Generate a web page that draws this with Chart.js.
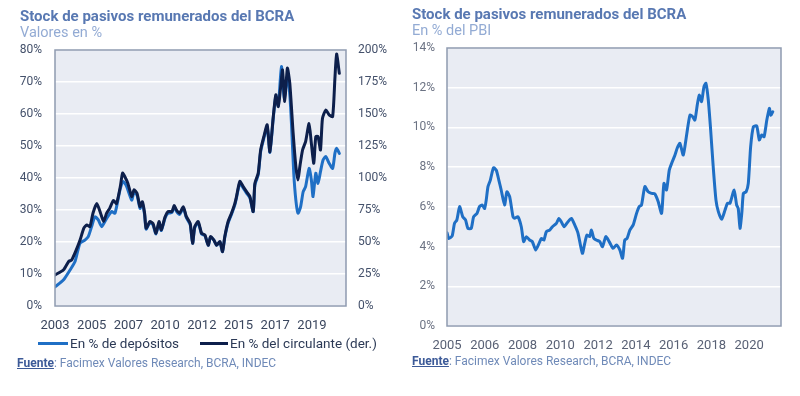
<!DOCTYPE html>
<html>
<head>
<meta charset="utf-8">
<script src="https://cdn.jsdelivr.net/npm/chart.js@4"></script>
<style>
  body { margin: 0; background: #fff; font-family: Roboto, "Noto Sans", sans-serif; }
  #wrap { position: relative; width: 800px; height: 396px; overflow: hidden; }
  canvas { position: absolute; top: 0; }
  .txt { position: absolute; white-space: nowrap; }
  .titulo { font-size: 15px; line-height: 15px; font-weight: bold; color: #5878b2; }
  .sub { font-size: 14.5px; line-height: 14.5px; color: #93abd4; }
  .fuente { font-size: 12px; line-height: 12px; color: #6f8ab8; }
  .fuente b { color: #3c5a98; text-decoration: underline; }
  .leg { font-size: 13.5px; line-height: 13.5px; color: #2c3a56; }
  .linea { position: absolute; height: 3px; }
</style>
</head>
<body>
<div id="wrap">
  <canvas id="izq" width="400" height="396" style="left:0"></canvas>
  <canvas id="der" width="400" height="396" style="left:400px"></canvas>

  <div class="txt titulo" style="left:20px; top:9px">Stock de pasivos remunerados del BCRA</div>
  <div class="txt sub" style="left:20px; top:26px">Valores en %</div>
  <div class="txt titulo" style="left:412px; top:7px">Stock de pasivos remunerados del BCRA</div>
  <div class="txt sub" style="left:412px; top:24px">En % del PBI</div>

  <div class="linea" style="left:38px; top:342px; width:30px; background:#1f6fc5"></div>
  <div class="txt leg" style="left:70px; top:337px">En % de depósitos</div>
  <div class="linea" style="left:200px; top:342px; width:28px; background:#0d1f4b"></div>
  <div class="txt leg" style="left:230px; top:337px">En % del circulante (der.)</div>

  <div class="txt fuente" style="left:17px; top:357px"><b>Fuente</b>: Facimex Valores Research, BCRA, INDEC</div>
  <div class="txt fuente" style="left:412px; top:355px"><b>Fuente</b>: Facimex Valores Research, BCRA, INDEC</div>
</div>
<script>
Chart.defaults.font.family = "Roboto, 'Noto Sans', sans-serif";

// Grafico izquierdo: % de depositos (eje izq.) y % del circulante (eje der.)
const aniosDep = [2003.0, 2003.55, 2003.99, 2004.32, 2004.64, 2004.97, 2005.19, 2005.41, 2005.63, 2005.85,
    2006.07, 2006.4, 2006.73, 2006.95, 2007.28, 2007.5, 2007.72, 2008.05,
    2008.2, 2008.4, 2008.6, 2008.75, 2008.9, 2009.0, 2009.25, 2009.45, 2009.65, 2009.85,
    2010.0, 2010.25, 2010.45, 2010.7, 2010.85, 2011.0, 2011.2, 2011.45, 2011.65, 2011.9,
    2012.06, 2012.2, 2012.43, 2012.65, 2012.87, 2013.09, 2013.24, 2013.46, 2013.64, 2013.86,
    2014.03, 2014.18, 2014.4, 2014.62, 2014.84, 2014.95, 2015.17, 2015.39, 2015.61, 2015.83,
    2016.05, 2016.16, 2016.38, 2016.54, 2016.75, 2016.97, 2017.15, 2017.36, 2017.54, 2017.7,
    2017.91, 2018.09, 2018.3, 2018.46, 2018.57, 2018.72, 2018.86, 2019.0, 2019.17, 2019.34,
    2019.5, 2019.73, 2019.88, 2019.99, 2020.17, 2020.32, 2020.48, 2020.65, 2020.83, 2021.05,
    2021.28, 2021.43, 2021.54, 2021.72];
const depositos = [6, 8.1, 11.25, 13.9, 19.6, 20.6, 21.7, 24.8, 27.9, 26.9,
    24.8, 27.4, 29.5, 29, 36.3, 38.9, 37.3, 33.1,
    35.5, 34.6, 30.5, 32, 28.5, 24, 26, 25.4, 22.5, 26,
    23.6, 27.5, 29, 29.2, 31, 29.6, 28.6, 30.6, 27.6, 25.4,
    19.6, 24.4, 26, 22.5, 22, 19, 21.5, 20.6, 19, 20,
    17, 21.5, 26, 28.6, 31.6, 33.8, 38.4, 36.9, 35.3, 33.8,
    29.5, 37.8, 41, 48.2, 52.4, 56, 48, 58.2, 65.5, 62.6,
    74.8, 65, 72, 66, 57, 41.5, 33, 29, 31, 35.7,
    37.3, 43, 39.4, 34.2, 41.5, 38.3, 42, 45.6, 46.7, 44.6,
    43, 47.7, 49.3, 47.7];

const aniosCirc = [2003.0, 2003.55, 2003.9, 2004.1, 2004.4, 2004.65, 2004.9, 2005.1, 2005.3, 2005.5,
    2005.75, 2006.0, 2006.2, 2006.4, 2006.6, 2006.85, 2007.05, 2007.3, 2007.45, 2007.6,
    2007.8, 2008.05, 2008.2, 2008.4, 2008.6, 2008.75, 2008.9, 2009.0, 2009.25, 2009.45,
    2009.65, 2009.85, 2010.0, 2010.25, 2010.45, 2010.7, 2010.85, 2011.0, 2011.2, 2011.45,
    2011.65, 2011.9, 2012.06, 2012.2, 2012.43, 2012.65, 2012.87, 2013.09, 2013.24, 2013.46,
    2013.64, 2013.86, 2014.03, 2014.18, 2014.4, 2014.62, 2014.84, 2014.95, 2015.17, 2015.39,
    2015.61, 2015.83, 2016.05, 2016.16, 2016.38, 2016.54, 2016.75, 2016.97, 2017.15, 2017.36,
    2017.54, 2017.7, 2017.85, 2017.98, 2018.13, 2018.3, 2018.46, 2018.68, 2018.86, 2019.0,
    2019.12, 2019.3, 2019.5, 2019.73, 2019.88, 2020.04, 2020.17, 2020.32, 2020.48, 2020.61,
    2020.83, 2021.05, 2021.28, 2021.43, 2021.54, 2021.72];
const circulante = [24.3, 28.1, 34.8, 36, 43.8, 51.5, 60.8, 63.3, 62, 72.5,
    80, 72.5, 66, 72.5, 76.3, 82.5, 80, 93.3, 103.8, 101,
    95.8, 85.5, 90.8, 88, 77.5, 81.5, 72.5, 60.8, 66, 64.5,
    56.8, 66, 59.5, 69.8, 73.8, 73.8, 78.5, 75, 72.5, 77.5,
    69.8, 64.5, 49, 62, 66, 56.8, 55.5, 47.5, 54.3, 51.5,
    47.5, 50.3, 42.5, 54.3, 66, 72.5, 80, 85.5, 97.3, 93.3,
    89.3, 85.5, 73.8, 95.8, 103.8, 121.9, 132.3, 141.5, 120.5, 146.5,
    165, 155.8, 170, 184.4, 159.8, 185.8, 174, 135, 108.8, 98.5,
    108.8, 121.9, 128.5, 142.5, 127, 111.5, 132.3, 132.3, 121.9, 146.5,
    153.1, 149.3, 148, 177.8, 196.9, 181.8];

const ticksIzq = [2003, 2005.417, 2007.833, 2010.25, 2012.667, 2015.083, 2017.5, 2019.917];
const etiquetasIzq = ["2003", "2005", "2007", "2010", "2012", "2015", "2017", "2019"];

// Grafico derecho: % del PBI
const aniosPbi = [2005.0, 2005.09, 2005.26, 2005.38, 2005.5, 2005.64, 2005.8, 2005.94, 2006.06, 2006.23,
    2006.35, 2006.52, 2006.65, 2006.79, 2006.91, 2006.99, 2007.08, 2007.2, 2007.36, 2007.5,
    2007.63, 2007.75, 2007.92, 2008.04, 2008.18, 2008.35, 2008.43, 2008.6, 2008.77, 2008.89,
    2009.03, 2009.19, 2009.33, 2009.5, 2009.67, 2009.79, 2009.92, 2010.04, 2010.21, 2010.35,
    2010.55, 2010.68, 2010.8, 2010.94, 2011.14, 2011.31, 2011.48, 2011.65, 2011.87, 2011.99,
    2012.1, 2012.24, 2012.33, 2012.45, 2012.58, 2012.75, 2012.89, 2013.06, 2013.23, 2013.43,
    2013.6, 2013.77, 2013.91, 2014.02, 2014.14, 2014.28, 2014.45, 2014.62, 2014.75, 2014.87,
    2015.04, 2015.21, 2015.38, 2015.55, 2015.72, 2015.89, 2016.01, 2016.14, 2016.28, 2016.4,
    2016.57, 2016.68, 2016.82, 2016.99, 2017.16, 2017.33, 2017.47, 2017.58, 2017.7, 2017.8,
    2017.92, 2018.04, 2018.14, 2018.26, 2018.38, 2018.51, 2018.65, 2018.77, 2018.94, 2019.11,
    2019.23, 2019.36, 2019.57, 2019.7, 2019.78, 2019.87, 2019.96, 2020.04, 2020.18, 2020.29,
    2020.41, 2020.55, 2020.72, 2020.85, 2020.97, 2021.09, 2021.23, 2021.36, 2021.43, 2021.53];
const pasivosPbi = [4.7, 4.41, 4.53, 5.17, 5.34, 6.01, 5.5, 5.34, 4.92, 4.92,
    5.5, 5.67, 6.01, 6.09, 5.92, 6.34, 7.02, 7.35, 7.97, 7.85,
    7.35, 6.85, 6.09, 6.76, 6.51, 5.5, 5.42, 5.5, 5.0, 4.25,
    4.5, 4.33, 4.25, 3.83, 4.16, 4.41, 4.33, 4.75, 4.83, 5.0,
    5.17, 5.42, 5.25, 5.0, 5.25, 5.42, 5.09, 4.67, 3.66, 4.16,
    4.58, 4.5, 4.83, 4.41, 4.33, 4.25, 3.99, 4.5, 4.25, 3.91,
    4.08, 3.83, 3.41, 4.33, 4.41, 4.83, 5.09, 5.67, 6.01, 6.09,
    7.02, 6.76, 6.68, 6.65, 6.26, 5.67, 7.18, 6.85, 7.85, 8.19,
    8.61, 8.95, 9.2, 8.61, 9.62, 10.62, 10.54, 10.37, 11.13, 11.63,
    11.3, 12.05, 12.22, 11.38, 9.87, 8.02, 6.34, 5.76, 5.37, 5.84,
    6.18, 6.18, 6.85, 6.09, 5.92, 4.92, 5.67, 6.68, 6.76, 7.18,
    9.03, 10.04, 10.07, 9.37, 9.62, 9.53, 10.37, 10.96, 10.62, 10.79];

const ticksDer = [2005, 2006.917, 2008.833, 2010.75, 2012.667, 2014.583, 2016.5, 2018.417, 2020.333];
const etiquetasDer = ["2005", "2006", "2008", "2010", "2012", "2014", "2016", "2018", "2020"];

const aPuntos = (xs, ys) => xs.map((x, i) => ({ x: x, y: ys[i] }));

// fondo gris del area de graficos y borde
const fondoArea = {
    id: "fondoArea",
    beforeDraw(chart) {
        const { ctx, chartArea: a } = chart;
        ctx.save();
        ctx.fillStyle = "#e9ecf3";
        ctx.fillRect(a.left, a.top, a.width, a.height);
        ctx.restore();
    },
    afterDraw(chart) {
        const { ctx, chartArea: a } = chart;
        ctx.save();
        ctx.strokeStyle = "#8e9ab0";
        ctx.lineWidth = 1.5;
        ctx.strokeRect(a.left, a.top, a.width, a.height);
        ctx.restore();
    }
};

const linea = (datos, color, eje, orden) => ({
    data: datos,
    borderColor: color,
    borderWidth: 3,
    pointRadius: 0,
    tension: 0.2,
    borderJoinStyle: "round",
    borderCapStyle: "round",
    yAxisID: eje,
    order: orden
});

new Chart(document.getElementById("izq"), {
    type: "line",
    data: {
        datasets: [
            linea(aPuntos(aniosDep, depositos), "#1f6fc5", "y", 1),
            linea(aPuntos(aniosCirc, circulante), "#0d1f4b", "y1", 0)
        ]
    },
    options: {
        responsive: false,
        animation: false,
        layout: { padding: { top: 50, bottom: 60, left: 0, right: 0 } },
        plugins: { legend: { display: false }, tooltip: { enabled: false } },
        scales: {
            x: {
                type: "linear",
                min: 2003,
                max: 2022.16,
                grid: { display: false },
                border: { display: false },
                afterBuildTicks: (s) => { s.ticks = ticksIzq.map(v => ({ value: v })); },
                afterFit: (s) => { s.height = 30; },
                ticks: {
                    autoSkip: false, maxRotation: 0, padding: 4,
                    color: "#3a465e", font: { size: 13 },
                    callback: (v, i) => etiquetasIzq[i]
                }
            },
            y: {
                position: "left",
                min: 0, max: 80,
                afterFit: (s) => { s.width = 55; },
                grid: { color: "#ffffff", lineWidth: 1.5, drawTicks: false },
                border: { display: false },
                ticks: { stepSize: 10, padding: 13, color: "#44516b", font: { size: 12 }, callback: v => v + "%" }
            },
            y1: {
                position: "right",
                min: 0, max: 200,
                afterFit: (s) => { s.width = 54; },
                grid: { display: false, drawTicks: false },
                border: { display: false },
                ticks: { stepSize: 25, padding: 12, color: "#44516b", font: { size: 12 }, callback: v => v + "%" }
            }
        }
    },
    plugins: [fondoArea]
});

new Chart(document.getElementById("der"), {
    type: "line",
    data: {
        datasets: [linea(aPuntos(aniosPbi, pasivosPbi), "#1f6fc5", "y", 0)]
    },
    options: {
        responsive: false,
        animation: false,
        layout: { padding: { top: 48, bottom: 40, left: 0, right: 19 } },
        plugins: { legend: { display: false }, tooltip: { enabled: false } },
        scales: {
            x: {
                type: "linear",
                min: 2005,
                max: 2021.95,
                grid: { display: false },
                border: { display: false },
                afterBuildTicks: (s) => { s.ticks = ticksDer.map(v => ({ value: v })); },
                afterFit: (s) => { s.height = 30; },
                ticks: {
                    autoSkip: false, maxRotation: 0, padding: 4,
                    color: "#596175", font: { size: 13 },
                    callback: (v, i) => etiquetasDer[i]
                }
            },
            y: {
                min: 0, max: 14,
                afterFit: (s) => { s.width = 47; },
                grid: { color: "#ffffff", lineWidth: 1.5, drawTicks: false },
                border: { display: false },
                ticks: { stepSize: 2, padding: 12, color: "#6b7283", font: { size: 12 }, callback: v => v + "%" }
            }
        }
    },
    plugins: [fondoArea]
});
</script>
</body>
</html>
